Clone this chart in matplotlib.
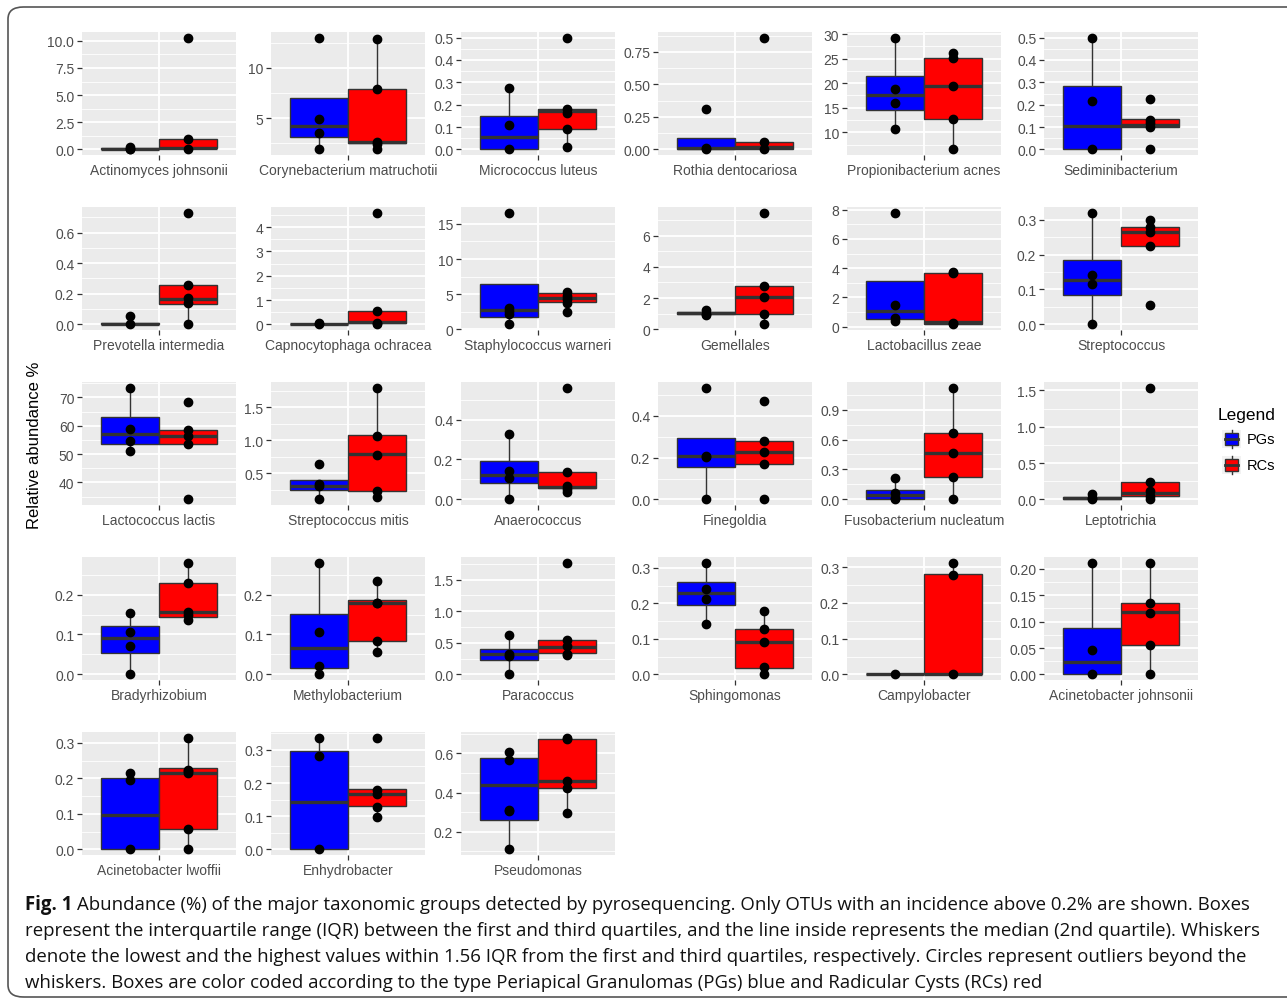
import numpy as np
import matplotlib
matplotlib.use("Agg")
import matplotlib.pyplot as plt
from matplotlib.patches import Rectangle, FancyBboxPatch

plt.rcParams['font.family'] = ['Liberation Sans', 'DejaVu Sans']

# species (one panel each), read left-to-right, top-to-bottom
names = ["Actinomyces johnsonii", "Corynebacterium matruchotii", "Micrococcus luteus",
         "Rothia dentocariosa", "Propionibacterium acnes", "Sediminibacterium",
         "Prevotella intermedia", "Capnocytophaga ochracea", "Staphylococcus warneri",
         "Gemellales", "Lactobacillus zeae", "Streptococcus",
         "Lactococcus lactis", "Streptococcus mitis", "Anaerococcus",
         "Finegoldia", "Fusobacterium nucleatum", "Leptotrichia",
         "Bradyrhizobium", "Methylobacterium", "Paracoccus",
         "Sphingomonas", "Campylobacter", "Acinetobacter johnsonii",
         "Acinetobacter lwoffii", "Enhydrobacter", "Pseudomonas"]

# box stats: (q1, median, q3, whisker low, whisker high)
pg_box = [(0.0, 0.05, 0.1, 0.0, 0.2), (3.1, 4.25, 7.0, 1.9, 7.0), (0.0, 0.055, 0.15, 0.0, 0.275),
          (0.0, 0.01, 0.085, 0.0, 0.085), (14.5, 17.5, 21.5, 10.6, 29.3), (0.0, 0.105, 0.285, 0.0, 0.5),
          (0.0, 0.005, 0.01, 0.0, 0.01), (0.0, 0.0, 0.02, 0.0, 0.02), (1.8, 2.7, 6.4, 0.7, 6.4),
          (1.0, 1.05, 1.1, 0.9, 1.2), (0.5, 1.05, 3.1, 0.35, 3.1), (0.085, 0.128, 0.185, 0.0, 0.32),
          (53.5, 57.0, 63.0, 51.0, 73.5), (0.25, 0.31, 0.40, 0.1, 0.40), (0.08, 0.12, 0.19, 0.0, 0.33),
          (0.155, 0.21, 0.295, 0.0, 0.295), (0.0, 0.04, 0.095, 0.0, 0.21), (0.0, 0.02, 0.04, 0.0, 0.04),
          (0.053, 0.09, 0.12, 0.0, 0.155), (0.016, 0.066, 0.152, 0.0, 0.28), (0.23, 0.32, 0.40, 0.0, 0.63),
          (0.195, 0.228, 0.26, 0.142, 0.315), (0.0, 0.0, 0.0, 0.0, 0.0), (0.0, 0.024, 0.088, 0.0, 0.212),
          (0.0, 0.097, 0.2, 0.0, 0.2), (0.0, 0.142, 0.297, 0.0, 0.335), (0.26, 0.438, 0.578, 0.11, 0.606)]
rc_box = [(0.1, 0.15, 1.0, 0.0, 1.0), (2.5, 2.6, 7.9, 1.9, 12.9), (0.09, 0.17, 0.18, 0.01, 0.18),
          (0.0, 0.02, 0.055, 0.0, 0.055), (12.7, 19.4, 25.2, 6.5, 26.2), (0.1, 0.11, 0.135, 0.1, 0.135),
          (0.135, 0.165, 0.26, 0.0, 0.26), (0.05, 0.1, 0.55, 0.0, 0.55), (3.9, 4.5, 5.2, 2.5, 5.3),
          (1.0, 2.05, 2.8, 0.3, 2.8), (0.2, 0.3, 3.7, 0.15, 3.75), (0.225, 0.265, 0.28, 0.225, 0.30),
          (53.5, 56.5, 58.5, 53.5, 58.5), (0.23, 0.79, 1.08, 0.13, 1.8), (0.055, 0.06, 0.135, 0.035, 0.135),
          (0.17, 0.225, 0.28, 0.17, 0.28), (0.22, 0.465, 0.67, 0.0, 1.12), (0.05, 0.09, 0.245, 0.0, 0.245),
          (0.145, 0.157, 0.23, 0.135, 0.28), (0.083, 0.18, 0.186, 0.056, 0.235), (0.34, 0.44, 0.55, 0.31, 0.55),
          (0.018, 0.09, 0.128, 0.0, 0.18), (0.0, 0.0, 0.28, 0.0, 0.313), (0.056, 0.118, 0.136, 0.0, 0.212),
          (0.058, 0.215, 0.228, 0.0, 0.315), (0.13, 0.168, 0.182, 0.097, 0.182), (0.425, 0.458, 0.675, 0.295, 0.68)]

# sample values (%) per group
pg_pts = [[0.0, 0.05, 0.2], [13.0, 4.9, 3.55, 1.9], [0.275, 0.108, 0.0],
          [0.31, 0.01, 0.0], [29.3, 18.9, 15.9, 10.6], [0.5, 0.215, 0.0],
          [0.055, 0.0], [0.05, 0.0], [16.6, 3.0, 2.6, 2.2, 0.7],
          [1.2, 1.0, 0.9], [7.8, 1.5, 0.6, 0.35], [0.32, 0.14, 0.115, 0.0],
          [73.5, 59.0, 54.7, 51.0], [0.64, 0.33, 0.30, 0.1], [0.33, 0.14, 0.105, 0.0],
          [0.535, 0.21, 0.205, 0.0], [0.21, 0.06, 0.01, 0.0], [0.07, 0.02, 0.0],
          [0.155, 0.107, 0.071, 0.0], [0.28, 0.107, 0.022, 0.0], [0.63, 0.32, 0.29, 0.0],
          [0.315, 0.24, 0.213, 0.142], [0.0], [0.212, 0.046, 0.0],
          [0.215, 0.195, 0.0], [0.335, 0.283, 0.0], [0.606, 0.565, 0.313, 0.307, 0.11]]
rc_pts = [[10.3, 1.0, 0.0], [12.9, 7.85, 2.6, 2.4, 1.9], [0.5, 0.18, 0.165, 0.09, 0.01],
          [0.86, 0.055, 0.0], [26.2, 25.1, 19.4, 12.7, 6.5], [0.225, 0.13, 0.12, 0.1, 0.0],
          [0.73, 0.26, 0.17, 0.14, 0.0], [4.6, 0.55, 0.05, 0.0], [5.3, 4.8, 4.3, 3.7, 2.5],
          [7.5, 2.8, 2.05, 1.0, 0.3], [3.75, 3.7, 0.25, 0.15], [0.30, 0.28, 0.265, 0.225, 0.055],
          [68.5, 58.5, 56.5, 53.5, 34.0], [1.8, 1.07, 0.78, 0.23, 0.13], [0.56, 0.135, 0.065, 0.05, 0.035],
          [0.47, 0.28, 0.225, 0.17, 0.0], [1.12, 0.665, 0.465, 0.225, 0.0], [1.54, 0.24, 0.11, 0.05, 0.0],
          [0.28, 0.23, 0.157, 0.15, 0.135], [0.235, 0.18, 0.178, 0.083, 0.056], [1.77, 0.55, 0.45, 0.33, 0.31],
          [0.18, 0.127, 0.09, 0.02, 0.0], [0.313, 0.278, 0.0], [0.212, 0.135, 0.117, 0.056, 0.0],
          [0.315, 0.225, 0.22, 0.215, 0.058, 0.0], [0.337, 0.18, 0.168, 0.128, 0.097], [0.68, 0.672, 0.46, 0.423, 0.295]]

y_ticks = [["0.0", "2.5", "5.0", "7.5", "10.0"], ["5", "10"], ["0.0", "0.1", "0.2", "0.3", "0.4", "0.5"],
           ["0.00", "0.25", "0.50", "0.75"], ["10", "15", "20", "25", "30"], ["0.0", "0.1", "0.2", "0.3", "0.4", "0.5"],
           ["0.0", "0.2", "0.4", "0.6"], ["0", "1", "2", "3", "4"], ["0", "5", "10", "15"],
           ["0", "2", "4", "6"], ["0", "2", "4", "6", "8"], ["0.0", "0.1", "0.2", "0.3"],
           ["40", "50", "60", "70"], ["0.5", "1.0", "1.5"], ["0.0", "0.2", "0.4"],
           ["0.0", "0.2", "0.4"], ["0.0", "0.3", "0.6", "0.9"], ["0.0", "0.5", "1.0", "1.5"],
           ["0.0", "0.1", "0.2"], ["0.0", "0.1", "0.2"], ["0.0", "0.5", "1.0", "1.5"],
           ["0.0", "0.1", "0.2", "0.3"], ["0.0", "0.1", "0.2", "0.3"], ["0.00", "0.05", "0.10", "0.15", "0.20"],
           ["0.0", "0.1", "0.2", "0.3"], ["0.0", "0.1", "0.2", "0.3"], ["0.2", "0.4", "0.6"]]

groups = ["PGs", "RCs"]
colors = ["#0000FF", "#FF0000"]

W, H = 1287, 1003
fig = plt.figure(figsize=(W / 100, H / 100), dpi=100)

def fx(x):
    return x / W

def fy(y):
    return 1 - y / H

# outer frame of the figure box
fig.patches.append(FancyBboxPatch((fx(8), fy(998)), fx(1320), (998 - 8) / H,
                                  boxstyle="round,pad=0,rounding_size=0.012",
                                  transform=fig.transFigure, fill=False,
                                  edgecolor="#555555", linewidth=1.2))

col_left = [82, 271, 461, 658, 847, 1044]
row_top = [33, 208, 383, 558, 733]
pw, ph = 154, 123
edge = "#333333"

for i, name in enumerate(names):
    r, c = divmod(i, 6)
    ax = fig.add_axes([fx(col_left[c]), fy(row_top[r] + ph), pw / W, ph / H])
    ax.set_facecolor("#EBEBEB")
    for s in ax.spines.values():
        s.set_visible(False)

    stats = []
    for b in (pg_box[i], rc_box[i]):
        q1, med, q3, lo, hi = b
        stats.append(dict(q1=q1, med=med, q3=q3, whislo=lo, whishi=hi, fliers=[]))
    bp = ax.bxp(stats, positions=[0.775, 1.225], widths=0.45, patch_artist=True,
                showcaps=False, showfliers=False, manage_ticks=False,
                boxprops=dict(edgecolor=edge, linewidth=1.0),
                medianprops=dict(color=edge, linewidth=2.4, solid_capstyle="butt"),
                whiskerprops=dict(color=edge, linewidth=1.0), zorder=3)
    for patch, col in zip(bp["boxes"], colors):
        patch.set_facecolor(col)

    for pos, pts in zip([0.775, 1.225], [pg_pts[i], rc_pts[i]]):
        ax.plot(np.full(len(pts), pos), pts, "o", color="black", ms=6, zorder=4)

    vals = pg_pts[i] + rc_pts[i] + list(pg_box[i]) + list(rc_box[i])
    lo, hi = min(vals), max(vals)
    pad = 0.05 * (hi - lo)
    ax.set_ylim(lo - pad, hi + pad)
    ax.set_xlim(0.4, 1.6)

    tv = [float(t) for t in y_ticks[i]]
    step = tv[1] - tv[0]
    minors = [tv[0] - step / 2 + k * step for k in range(len(tv) + 1)]
    minors = [m for m in minors if lo - pad < m < hi + pad]
    ax.set_yticks(tv)
    ax.set_yticklabels(y_ticks[i])
    ax.set_yticks(minors, minor=True)
    ax.set_xticks([1])
    ax.set_xticklabels([name])
    ax.tick_params(axis="both", which="major", length=3.5, width=0.9, color="#333333",
                   labelsize=10, labelcolor="#4D4D4D", pad=2)
    ax.tick_params(axis="y", which="minor", length=0)
    ax.grid(which="major", color="white", linewidth=1.3, zorder=0)
    ax.grid(which="minor", axis="y", color="white", linewidth=0.6, zorder=0)
    ax.set_axisbelow(True)

fig.text(fx(35), fy(445), "Relative abundance %", rotation=90, ha="center", va="center",
         fontsize=12, color="black")

# legend
fig.text(fx(1218), fy(416), "Legend", ha="left", va="center", fontsize=12.5, color="black")
lg = fig.add_axes([0, 0, 1, 1], zorder=-1)
lg.set_xlim(0, W)
lg.set_ylim(H, 0)
lg.axis("off")
for k, (lab, col) in enumerate(zip(groups, colors)):
    cy = 440 + k * 26
    lg.add_patch(Rectangle((1222, cy - 9), 19, 18, facecolor="#F2F2F2", edgecolor="none"))
    lg.plot([1231.5, 1231.5], [cy - 9, cy + 9], color=edge, lw=1.0)
    lg.add_patch(Rectangle((1225, cy - 6), 13, 12, facecolor=col, edgecolor=edge, lw=1.0, zorder=3))
    lg.plot([1225, 1238], [cy, cy], color=edge, lw=2.0, zorder=4)
    lg.text(1247, cy, lab, ha="left", va="center", fontsize=10.5, color="black")

# caption
cap_font = ["Open Sans", "DejaVu Sans"]
cap_lines = ["Abundance (%) of the major taxonomic groups detected by pyrosequencing. Only OTUs with an incidence above 0.2% are shown. Boxes",
             "represent the interquartile range (IQR) between the first and third quartiles, and the line inside represents the median (2nd quartile). Whiskers",
             "denote the lowest and the highest values within 1.56 IQR from the first and third quartiles, respectively. Circles represent outliers beyond the",
             "whiskers. Boxes are color coded according to the type Periapical Granulomas (PGs) blue and Radicular Cysts (RCs) red"]
cap_size = 13.4
t0 = fig.text(fx(25), fy(905), "Fig. 1", ha="left", va="center", fontsize=cap_size,
              fontweight="bold", family=cap_font, color="#111111")
fig.canvas.draw()
bb = t0.get_window_extent()
fig.text((bb.x1 + 5) / W, fy(905), cap_lines[0], ha="left", va="center", fontsize=cap_size,
         family=cap_font, color="#111111")
for k, line in enumerate(cap_lines[1:]):
    fig.text(fx(25), fy(931 + 26 * k), line, ha="left", va="center", fontsize=cap_size,
             family=cap_font, color="#111111")

fig.savefig("out.png", dpi=100)
